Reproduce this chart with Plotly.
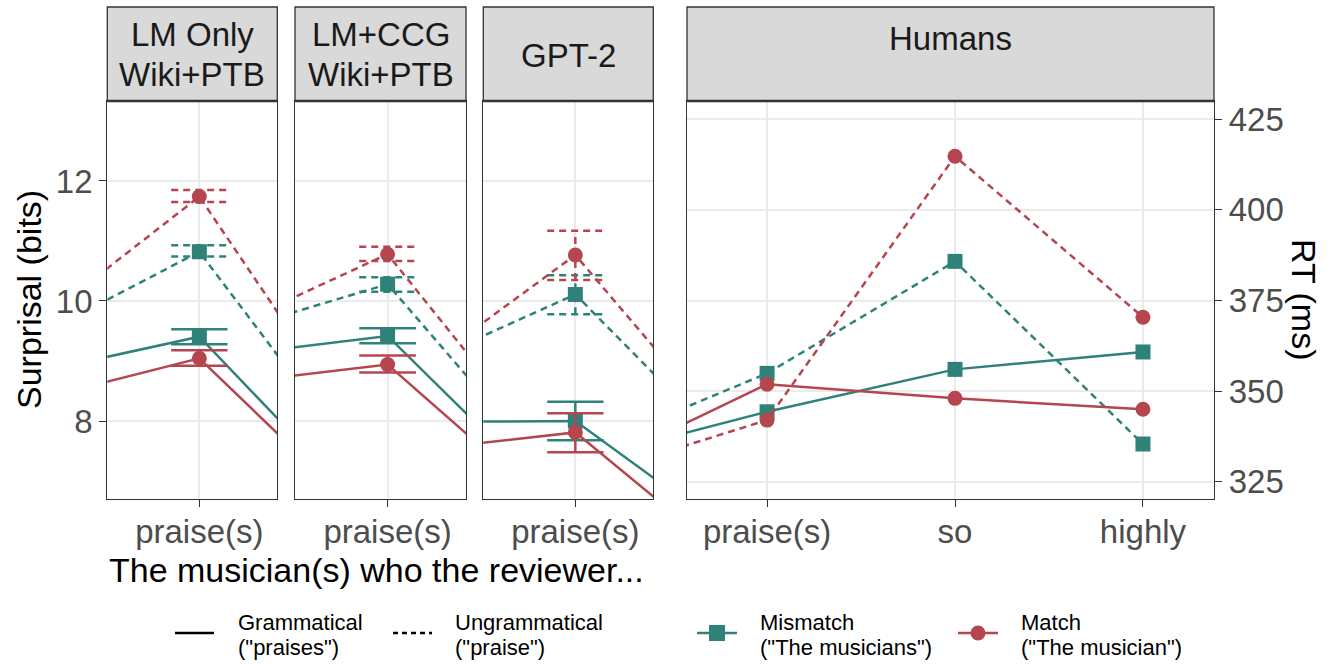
import plotly.graph_objects as go

W, H = 1338, 664

# ---------------- data ----------------
# word positions: previous word, critical word, following word(s)
surp_x = [0, 1, 2]
surp_words = ["reviewer", "praise(s)", "so"]
human_x = [0, 1, 2, 3]
human_words = ["reviewer", "praise(s)", "so", "highly"]

# surprisal (bits) at [reviewer, praise(s), so]
lm_mismatch_gram = [8.72, 9.405, 6.13]
lm_match_gram = [8.25, 9.045, 6.03]
lm_mismatch_ungram = [9.19, 10.82, 6.68]
lm_match_ungram = [9.30, 11.74, 7.11]
# confidence interval (low, high) at praise(s)
lm_ci_mismatch_gram = [9.28, 9.53]
lm_ci_match_gram = [8.92, 9.18]
lm_ci_mismatch_ungram = [10.74, 10.93]
lm_ci_match_ungram = [11.65, 11.85]

ccg_mismatch_gram = [9.03, 9.417, 6.31]
ccg_match_gram = [8.57, 8.94, 6.18]
ccg_mismatch_ungram = [9.34, 10.28, 6.63]
ccg_match_ungram = [9.33, 10.78, 6.86]
ccg_ci_mismatch_gram = [9.295, 9.545]
ccg_ci_match_gram = [8.81, 9.09]
ccg_ci_mismatch_ungram = [10.155, 10.395]
ccg_ci_match_ungram = [10.667, 10.905]

gpt2_mismatch_gram = [7.98, 8.0, 5.72]
gpt2_match_gram = [7.46, 7.81, 5.23]
gpt2_mismatch_ungram = [8.70, 10.11, 6.94]
gpt2_match_ungram = [8.47, 10.767, 7.09]
gpt2_ci_mismatch_gram = [7.68, 8.32]
gpt2_ci_match_gram = [7.48, 8.13]
gpt2_ci_mismatch_ungram = [9.78, 10.43]
gpt2_ci_match_ungram = [10.35, 11.17]

# human reading times (ms) at [reviewer, praise(s), so, highly]
human_mismatch_gram = [330.9, 344.3, 356.0, 360.8]
human_match_gram = [327.0, 351.9, 348.0, 345.0]
human_mismatch_ungram = [333.3, 354.9, 385.8, 335.4]
human_match_ungram = [325.8, 342.0, 414.8, 370.4]

surp_ticks = [8, 10, 12]
rt_ticks = [325, 350, 375, 400, 425]

# ---------------- style ----------------
TEAL = "#2E8279"
RED = "#B5464F"
DASH = "7px,5px"
FONT = "Liberation Sans, Arial, sans-serif"
GRID = "#EBEBEB"
AXC = "#333333"
TICKC = "#4D4D4D"
CAP = 0.15  # half width of error-bar caps (x units)
CLEAR = "rgba(0,0,0,0)"
MSIZE = 15


def px(x):
    return x / W


def py(y):
    return 1 - y / H


panel_x = [(107.3, 277.3), (295.0, 466.0), (483.3, 653.3), (687.0, 1214.0)]
plot_top, plot_bot = 101.0, 499.0
strip_top = 7.0

fig = go.Figure()

models = [
    (lm_mismatch_gram, lm_match_gram, lm_mismatch_ungram, lm_match_ungram,
     lm_ci_mismatch_gram, lm_ci_match_gram, lm_ci_mismatch_ungram, lm_ci_match_ungram),
    (ccg_mismatch_gram, ccg_match_gram, ccg_mismatch_ungram, ccg_match_ungram,
     ccg_ci_mismatch_gram, ccg_ci_match_gram, ccg_ci_mismatch_ungram, ccg_ci_match_ungram),
    (gpt2_mismatch_gram, gpt2_match_gram, gpt2_mismatch_ungram, gpt2_match_ungram,
     gpt2_ci_mismatch_gram, gpt2_ci_match_gram, gpt2_ci_mismatch_ungram, gpt2_ci_match_ungram),
]


def errbar(xc, ci):
    lo, hi = ci
    xs = [xc - CAP, xc + CAP, None, xc, xc, None, xc - CAP, xc + CAP]
    ys = [hi, hi, None, lo, hi, None, lo, lo]
    return xs, ys


for i, m in enumerate(models):
    xa = "x" if i == 0 else f"x{i + 1}"
    ya = "y" if i == 0 else f"y{i + 1}"
    mg, ma, mu, mau, cmg, cma, cmu, cmau = m
    series = [
        (mg, cmg, TEAL, "square", "solid"),
        (mu, cmu, TEAL, "square", DASH),
        (ma, cma, RED, "circle", "solid"),
        (mau, cmau, RED, "circle", DASH),
    ]
    for vals, ci, col, sym, dash in series:
        fig.add_trace(go.Scatter(
            x=surp_x, y=vals, mode="lines+markers", xaxis=xa, yaxis=ya,
            line=dict(color=col, width=2.5, dash=dash),
            marker=dict(color=col, symbol=sym, size=MSIZE, line=dict(width=0)),
            showlegend=False, hoverinfo="skip"))
        ex, ey = errbar(surp_x[1], ci)
        fig.add_trace(go.Scatter(
            x=ex, y=ey, mode="lines", xaxis=xa, yaxis=ya,
            line=dict(color=col, width=2.5, dash=dash),
            showlegend=False, hoverinfo="skip"))

human_series = [
    (human_mismatch_gram, TEAL, "square", "solid"),
    (human_mismatch_ungram, TEAL, "square", DASH),
    (human_match_gram, RED, "circle", "solid"),
    (human_match_ungram, RED, "circle", DASH),
]
for vals, col, sym, dash in human_series:
    fig.add_trace(go.Scatter(
        x=human_x, y=vals, mode="lines+markers", xaxis="x4", yaxis="y4",
        line=dict(color=col, width=2.5, dash=dash),
        marker=dict(color=col, symbol=sym, size=MSIZE, line=dict(width=0)),
        showlegend=False, hoverinfo="skip"))

# legend keys, drawn on a full-page pixel axis
legend_keys = [
    ([175, 214], [633, 633], "black", "solid", None),
    ([393, 432], [633, 633], "black", "5px,4px", None),
    ([697, 737], [633, 633], TEAL, "solid", "square"),
    ([958, 998], [633, 633], RED, "solid", "circle"),
]
for xs, ys, col, dash, sym in legend_keys:
    fig.add_trace(go.Scatter(
        x=xs, y=ys, mode="lines", xaxis="x5", yaxis="y5",
        line=dict(color=col, width=2.5, dash=dash),
        showlegend=False, hoverinfo="skip"))
    if sym:
        fig.add_trace(go.Scatter(
            x=[(xs[0] + xs[1]) / 2], y=[ys[0]], mode="markers", xaxis="x5", yaxis="y5",
            marker=dict(color=col, symbol=sym, size=16 if sym == "square" else 15,
                        line=dict(width=0)),
            showlegend=False, hoverinfo="skip"))

tickfont = dict(family=FONT, size=33, color=TICKC)
axis_common = dict(showline=True, mirror=True, linecolor=AXC, linewidth=1.3,
                   showgrid=True, gridcolor=GRID, gridwidth=2, zeroline=False,
                   tickfont=tickfont, ticks="outside", ticklen=7, tickwidth=1.3,
                   tickcolor=AXC, fixedrange=True)

layout = dict(
    width=W, height=H, margin=dict(l=0, r=0, t=0, b=0),
    paper_bgcolor="white", plot_bgcolor=CLEAR,
    font=dict(family=FONT), showlegend=False,
)

surp_range = [6.70, 13.333]
for i in range(3):
    xk = "xaxis" if i == 0 else f"xaxis{i + 1}"
    yk = "yaxis" if i == 0 else f"yaxis{i + 1}"
    x0, x1 = panel_x[i]
    layout[xk] = dict(axis_common, domain=[px(x0), px(x1)], range=[0.51, 1.415],
                      tickvals=[surp_x[1]], ticktext=[surp_words[1]],
                      ticklabelstandoff=-4,
                      anchor="y" if i == 0 else f"y{i + 1}")
    ydict = dict(axis_common, domain=[py(plot_bot), py(plot_top)], range=surp_range,
                 tickvals=surp_ticks, anchor="x" if i == 0 else f"x{i + 1}")
    if i > 0:
        ydict.update(showticklabels=False, ticks="")
    layout[yk] = ydict

x0, x1 = panel_x[3]
layout["xaxis4"] = dict(axis_common, domain=[px(x0), px(x1)], range=[0.574, 3.378],
                        tickvals=human_x[1:], ticktext=human_words[1:],
                        ticklabelstandoff=-4, anchor="y4")
layout["yaxis4"] = dict(axis_common, domain=[py(plot_bot), py(plot_top)],
                        range=[320.23, 430.05], tickvals=rt_ticks, side="right",
                        anchor="x4")
layout["xaxis5"] = dict(domain=[0, 1], range=[0, W], visible=False, anchor="y5",
                        fixedrange=True)
layout["yaxis5"] = dict(domain=[0, 1], range=[H, 0], visible=False, anchor="x5",
                        fixedrange=True)

fig.update_layout(**layout)

# facet strips
strip_labels = [["LM Only", "Wiki+PTB"], ["LM+CCG", "Wiki+PTB"], ["GPT-2"], ["Humans"]]
strip_text_y = [[35, 74], [35, 74], [55], [38]]
for (x0, x1), lines, ys in zip(panel_x, strip_labels, strip_text_y):
    fig.add_shape(type="rect", xref="paper", yref="paper",
                  x0=px(x0), x1=px(x1), y0=py(plot_top), y1=py(strip_top),
                  fillcolor="#D9D9D9", line=dict(color=AXC, width=1.3), layer="below")
    fig.add_shape(type="line", xref="paper", yref="paper",
                  x0=px(x0), x1=px(x1), y0=py(plot_top), y1=py(plot_top),
                  line=dict(color=AXC, width=2.5))
    for t, yy in zip(lines, ys):
        fig.add_annotation(x=px((x0 + x1) / 2), y=py(yy), xref="paper", yref="paper",
                           text=t, showarrow=False, xanchor="center", yanchor="middle",
                           font=dict(family=FONT, size=33, color="#1A1A1A"))

# axis titles
fig.add_annotation(x=px(107), y=py(570), xref="paper", yref="paper",
                   text="The musician(s) who the reviewer...", showarrow=False,
                   xanchor="left", yanchor="middle",
                   font=dict(family=FONT, size=34, color="black"))
fig.add_annotation(x=px(29), y=py(300), xref="paper", yref="paper",
                   text="Surprisal (bits)", showarrow=False, textangle=-90,
                   xanchor="center", yanchor="middle",
                   font=dict(family=FONT, size=34, color="black"))
fig.add_annotation(x=px(1304), y=py(300), xref="paper", yref="paper",
                   text="RT (ms)", showarrow=False, textangle=90,
                   xanchor="center", yanchor="middle",
                   font=dict(family=FONT, size=34, color="black"))

# legend labels
legend_text = [
    (236, ["Grammatical", '("praises")']),
    (453, ["Ungrammatical", '("praise")']),
    (758, ["Mismatch", '("The musicians")']),
    (1019, ["Match", '("The musician")']),
]
for lx, lines in legend_text:
    for t, yy in zip(lines, [622, 647]):
        fig.add_annotation(x=px(lx), y=py(yy), xref="paper", yref="paper",
                           text=t, showarrow=False, xanchor="left", yanchor="middle",
                           font=dict(family=FONT, size=22, color="black"))

fig.write_html("out.html")
